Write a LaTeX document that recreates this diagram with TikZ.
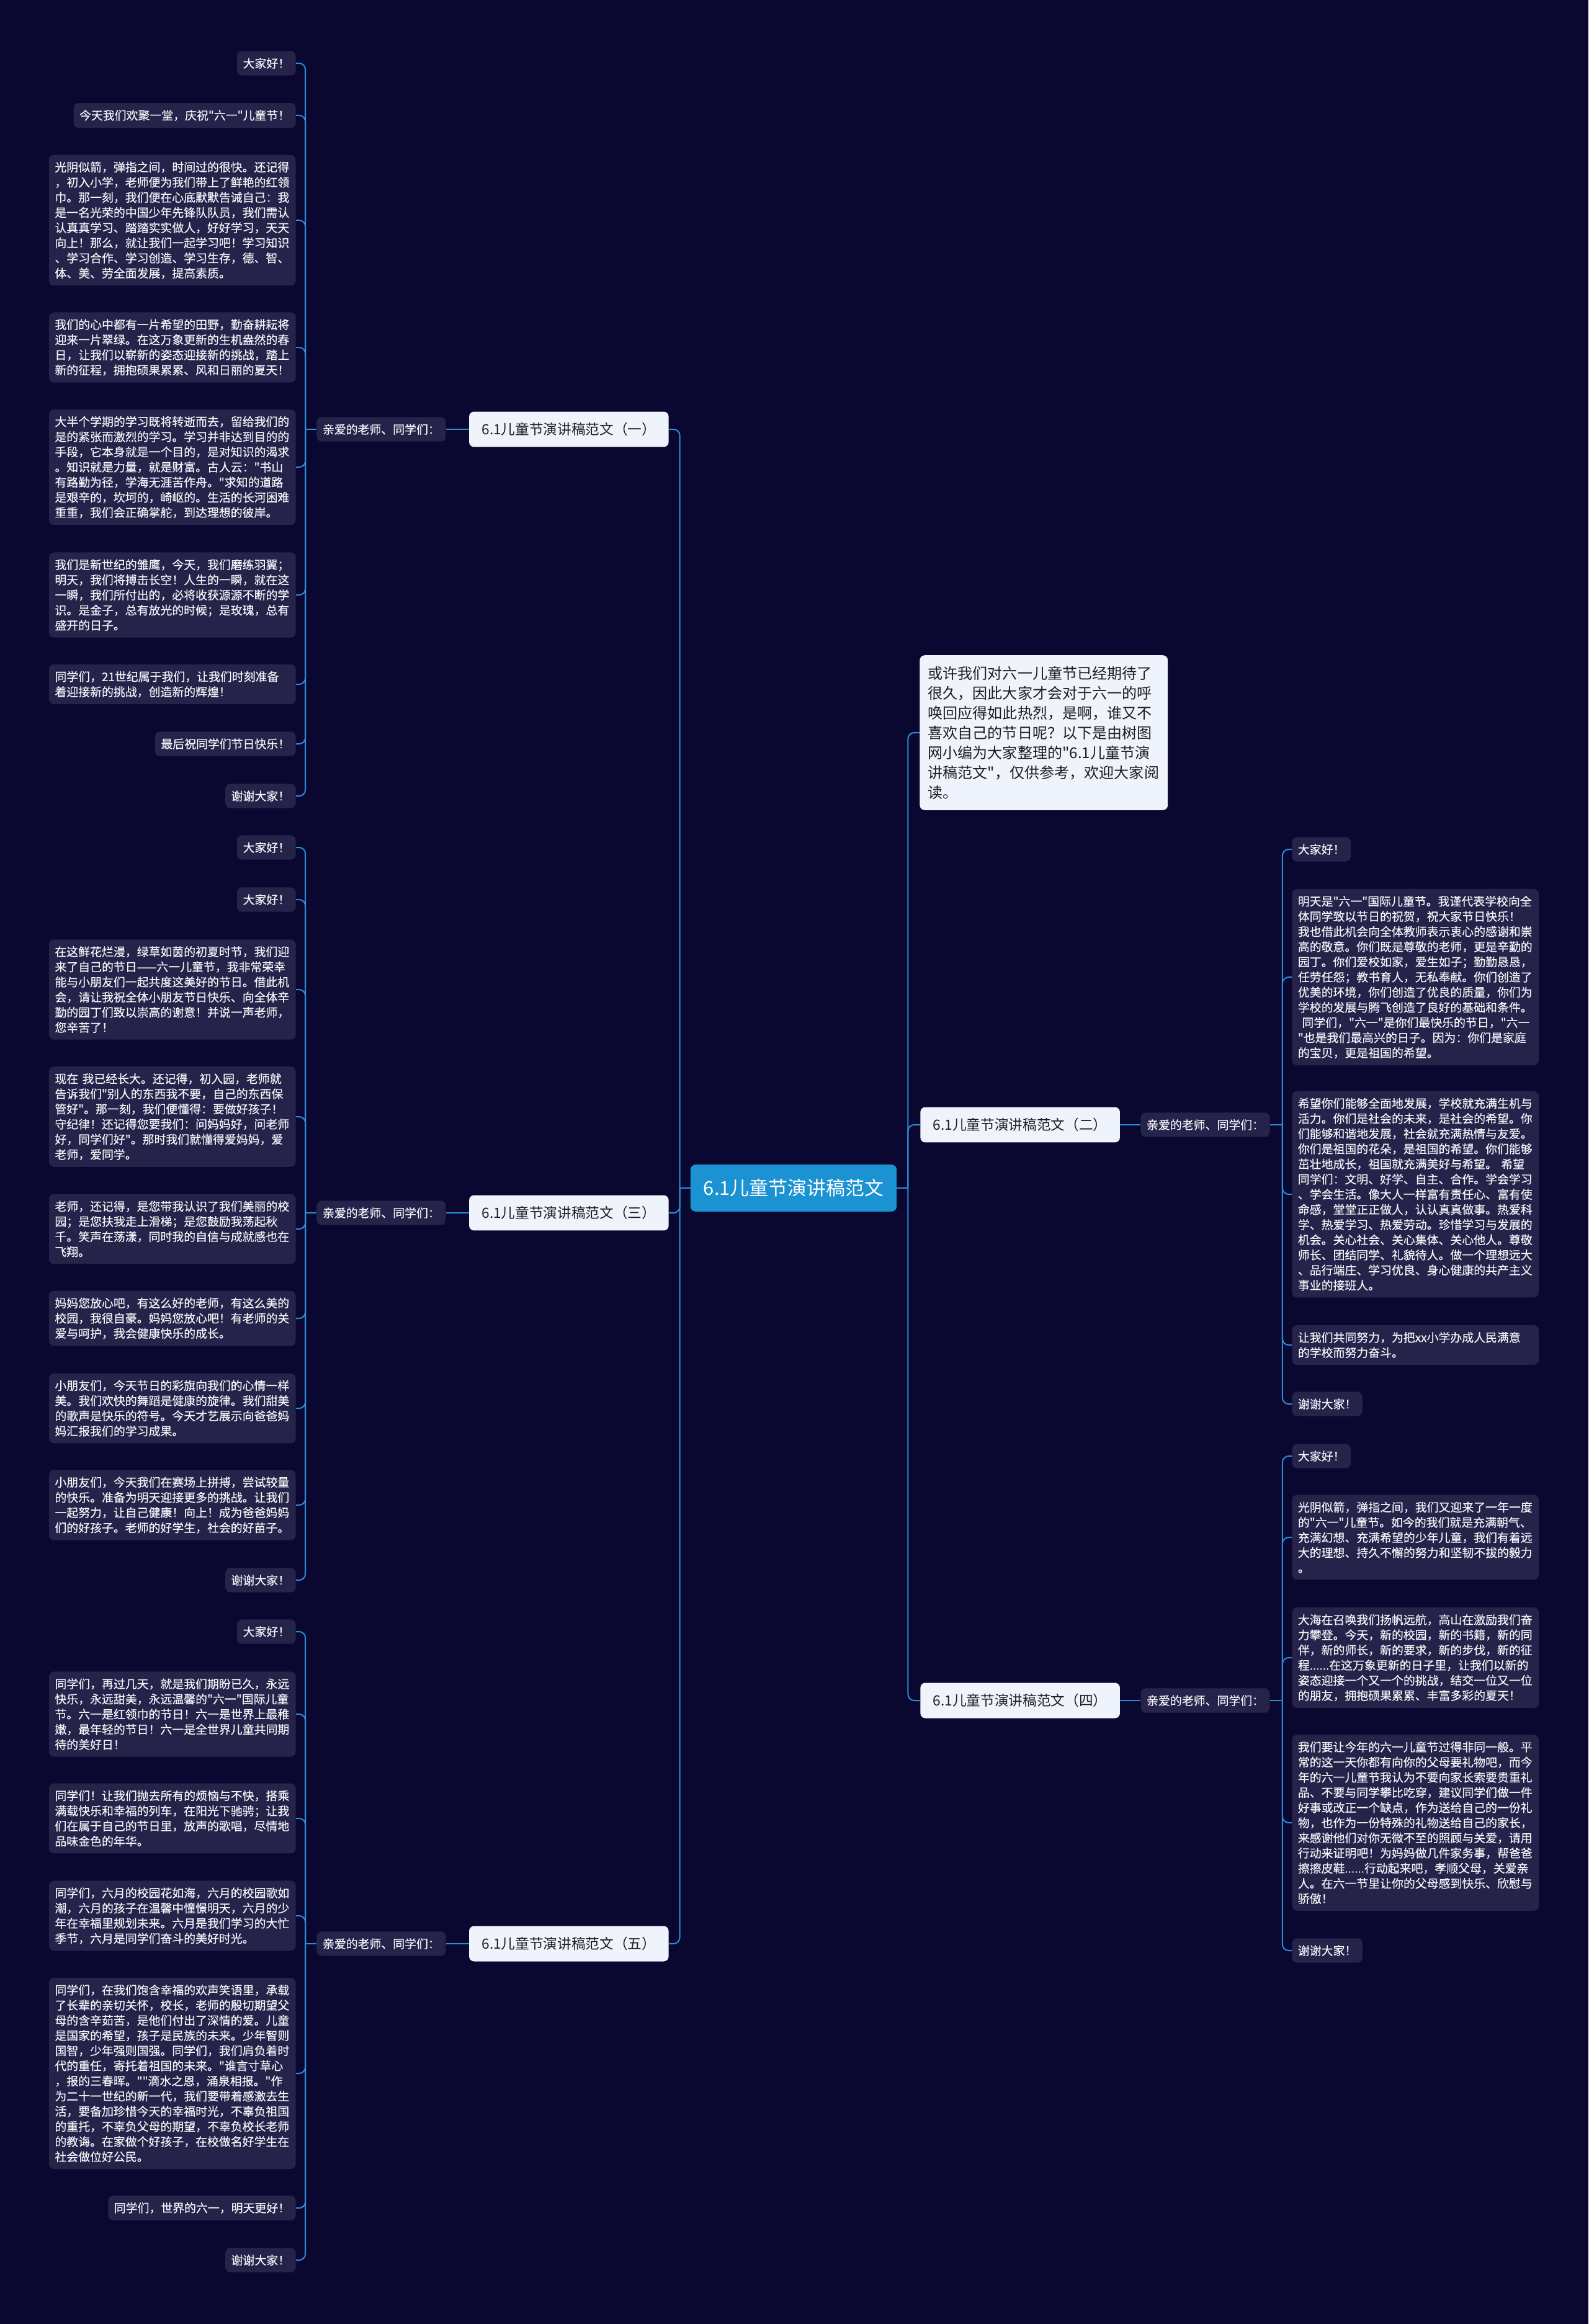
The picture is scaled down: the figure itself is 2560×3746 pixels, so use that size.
\documentclass[tikz,border=0pt]{standalone}
\usepackage{fontspec}
\setmainfont{Noto Sans CJK SC}[Ligatures=TeXOff]
\newfontfamily\leaffont{Noto Sans CJK SC}[Ligatures=TeXOff,FakeBold=0.4]
\usepackage{xcolor}
\usepackage{tikz}
\usetikzlibrary{positioning}

\definecolor{bgnavy}{HTML}{0A0730}
\definecolor{leaffill}{HTML}{25234A}
\definecolor{leaftext}{HTML}{F4F4F8}
\definecolor{branchfill}{HTML}{EEF3FC}
\definecolor{branchtext}{HTML}{1C1C24}
\definecolor{rootblue}{HTML}{1B93D3}
\definecolor{linkblue}{HTML}{2C8ED8}

\begin{document}
\begin{tikzpicture}[
    x=0.2mm, y=-0.2mm,
    leaf/.style   = {fill=leaffill, text=leaftext, rounded corners=1.6mm,
                     align=left, inner xsep=5.4pt, inner ysep=6.2pt,
                     font=\leaffont\fontsize{10.75pt}{13.9pt}\selectfont},
    para/.style   = {leaf, text width=215.5pt},
    branch/.style = {fill=branchfill, text=branchtext, rounded corners=1.6mm,
                     minimum width=183pt, minimum height=32.4pt,
                     font=\fontsize{12.9pt}{15pt}\selectfont},
    root/.style   = {fill=rootblue, text=white, rounded corners=1.6mm,
                     minimum width=189pt, minimum height=43pt,
                     font=\fontsize{17.6pt}{20pt}\selectfont},
    intro/.style  = {fill=branchfill, text=branchtext, rounded corners=1.6mm,
                     align=left, text width=212.5pt, inner xsep=7.5pt,
                     inner ysep=10pt, font=\fontsize{13.7pt}{18.2pt}\selectfont},
    link/.style   = {draw=linkblue, line width=0.4mm, rounded corners=2mm},
]

%% ── Canvas ────────────────────────────────────────────────────────────────
\fill[bgnavy] (0,0) rectangle (2560,3746);

%% ── Root and branches ─────────────────────────────────────────────────────
\node[root] (root) at (1279,1915) {6.1儿童节演讲稿范文};

\node[branch, anchor=east] (b1) at (1078,692)  {6.1儿童节演讲稿范文（一）};
\node[branch, anchor=east] (b3) at (1078,1955) {6.1儿童节演讲稿范文（三）};
\node[branch, anchor=east] (b5) at (1078,3133) {6.1儿童节演讲稿范文（五）};
\node[branch, anchor=west] (b2) at (1483,1813) {6.1儿童节演讲稿范文（二）};
\node[branch, anchor=west] (b4) at (1483,2741) {6.1儿童节演讲稿范文（四）};

\node[intro, anchor=west] (intro) at (1482,1181)
  {或许我们对六一儿童节已经期待了\\很久，因此大家才会对于六一的呼\\唤回应得如此热烈，是啊，谁又不\\喜欢自己的节日呢？以下是由树图\\网小编为大家整理的"6.1儿童节演\\讲稿范文"，仅供参考，欢迎大家阅\\读。};

\node[leaf, left=7.4mm of b1]  (l1) {亲爱的老师、同学们：};
\node[leaf, left=7.4mm of b3]  (l3) {亲爱的老师、同学们：};
\node[leaf, left=7.4mm of b5]  (l5) {亲爱的老师、同学们：};
\node[leaf, right=6.6mm of b2] (l2) {亲爱的老师、同学们：};
\node[leaf, right=6.6mm of b4] (l4) {亲爱的老师、同学们：};

%% ── Speech (一) ────────────────────────────────────────────────────────────
\node[leaf, anchor=east] (a1) at (477,102) {大家好！};
\node[leaf, anchor=east] (a2) at (477,186) {今天我们欢聚一堂，庆祝"六一"儿童节！};
\node[para, anchor=east] (a3) at (477,355)
  {光阴似箭，弹指之间，时间过的很快。还记得\\，初入小学，老师便为我们带上了鲜艳的红领\\巾。那一刻，我们便在心底默默告诫自己：我\\是一名光荣的中国少年先锋队队员，我们需认\\认真真学习、踏踏实实做人，好好学习，天天\\向上！那么，就让我们一起学习吧！学习知识\\、学习合作、学习创造、学习生存，德、智、\\体、美、劳全面发展，提高素质。};
\node[para, anchor=east] (a4) at (477,560)
  {我们的心中都有一片希望的田野，勤奋耕耘将\\迎来一片翠绿。在这万象更新的生机盎然的春\\日，让我们以崭新的姿态迎接新的挑战，踏上\\新的征程，拥抱硕果累累、风和日丽的夏天！};
\node[para, anchor=east] (a5) at (477,753)
  {大半个学期的学习既将转逝而去，留给我们的\\是的紧张而激烈的学习。学习并非达到目的的\\手段，它本身就是一个目的，是对知识的渴求\\。知识就是力量，就是财富。古人云："书山\\有路勤为径，学海无涯苦作舟。"求知的道路\\是艰辛的，坎坷的，崎岖的。生活的长河困难\\重重，我们会正确掌舵，到达理想的彼岸。};
\node[para, anchor=east] (a6) at (477,959)
  {我们是新世纪的雏鹰，今天，我们磨练羽翼；\\明天，我们将搏击长空！人生的一瞬，就在这\\一瞬，我们所付出的，必将收获源源不断的学\\识。是金子，总有放光的时候；是玫瑰，总有\\盛开的日子。};
\node[para, anchor=east] (a7) at (477,1103)
  {同学们，21世纪属于我们，让我们时刻准备\\着迎接新的挑战，创造新的辉煌！};
\node[leaf, anchor=east] (a8) at (477,1199) {最后祝同学们节日快乐！};
\node[leaf, anchor=east] (a9) at (477,1283) {谢谢大家！};

%% ── Speech (三) ────────────────────────────────────────────────────────────
\node[leaf, anchor=east] (c1) at (477,1366) {大家好！};
\node[leaf, anchor=east] (c2) at (477,1450) {大家好！};
\node[para, anchor=east] (c3) at (477,1595)
  {在这鲜花烂漫，绿草如茵的初夏时节，我们迎\\来了自己的节日——六一儿童节，我非常荣幸\\能与小朋友们一起共度这美好的节日。借此机\\会，请让我祝全体小朋友节日快乐、向全体辛\\勤的园丁们致以崇高的谢意！并说一声老师，\\您辛苦了！};
\node[para, anchor=east] (c4) at (477,1800)
  {现在 我已经长大。还记得，初入园，老师就\\告诉我们"别人的东西我不要，自己的东西保\\管好"。那一刻，我们便懂得：要做好孩子！\\守纪律！还记得您要我们：问妈妈好，问老师\\好，同学们好"。那时我们就懂得爱妈妈，爱\\老师，爱同学。};
\node[para, anchor=east] (c5) at (477,1981)
  {老师，还记得，是您带我认识了我们美丽的校\\园；是您扶我走上滑梯；是您鼓励我荡起秋\\千。笑声在荡漾，同时我的自信与成就感也在\\飞翔。};
\node[para, anchor=east] (c6) at (477,2125)
  {妈妈您放心吧，有这么好的老师，有这么美的\\校园，我很自豪。妈妈您放心吧！有老师的关\\爱与呵护，我会健康快乐的成长。};
\node[para, anchor=east] (c7) at (477,2270)
  {小朋友们，今天节日的彩旗向我们的心情一样\\美。我们欢快的舞蹈是健康的旋律。我们甜美\\的歌声是快乐的符号。今天才艺展示向爸爸妈\\妈汇报我们的学习成果。};
\node[para, anchor=east] (c8) at (477,2426)
  {小朋友们，今天我们在赛场上拼搏，尝试较量\\的快乐。准备为明天迎接更多的挑战。让我们\\一起努力，让自己健康！向上！成为爸爸妈妈\\们的好孩子。老师的好学生，社会的好苗子。};
\node[leaf, anchor=east] (c9) at (477,2547) {谢谢大家！};

%% ── Speech (五) ────────────────────────────────────────────────────────────
\node[leaf, anchor=east] (e1) at (477,2630) {大家好！};
\node[para, anchor=east] (e2) at (477,2763)
  {同学们，再过几天，就是我们期盼已久，永远\\快乐，永远甜美，永远温馨的"六一"国际儿童\\节。六一是红领巾的节日！六一是世界上最稚\\嫩，最年轻的节日！六一是全世界儿童共同期\\待的美好日！};
\node[para, anchor=east] (e3) at (477,2931)
  {同学们！让我们抛去所有的烦恼与不快，搭乘\\满载快乐和幸福的列车，在阳光下驰骋；让我\\们在属于自己的节日里，放声的歌唱，尽情地\\品味金色的年华。};
\node[para, anchor=east] (e4) at (477,3088)
  {同学们，六月的校园花如海，六月的校园歌如\\潮，六月的孩子在温馨中憧憬明天，六月的少\\年在幸福里规划未来。六月是我们学习的大忙\\季节，六月是同学们奋斗的美好时光。};
\node[para, anchor=east] (e5) at (477,3342)
  {同学们，在我们饱含幸福的欢声笑语里，承载\\了长辈的亲切关怀，校长，老师的殷切期望父\\母的含辛茹苦，是他们付出了深情的爱。儿童\\是国家的希望，孩子是民族的未来。少年智则\\国智，少年强则国强。同学们，我们肩负着时\\代的重任，寄托着祖国的未来。"谁言寸草心\\，报的三春晖。""滴水之恩，涌泉相报。"作\\为二十一世纪的新一代，我们要带着感激去生\\活，要备加珍惜今天的幸福时光，不辜负祖国\\的重托，不辜负父母的期望，不辜负校长老师\\的教诲。在家做个好孩子，在校做名好学生在\\社会做位好公民。};
\node[leaf, anchor=east] (e6) at (477,3559) {同学们，世界的六一，明天更好！};
\node[leaf, anchor=east] (e7) at (477,3643) {谢谢大家！};

%% ── Speech (二) ────────────────────────────────────────────────────────────
\node[leaf, anchor=west] (d1) at (2082,1369) {大家好！};
\node[para, anchor=west] (d2) at (2082,1575)
  {明天是"六一"国际儿童节。我谨代表学校向全\\体同学致以节日的祝贺，祝大家节日快乐！\\我也借此机会向全体教师表示衷心的感谢和崇\\高的敬意。你们既是尊敬的老师，更是辛勤的\\园丁。你们爱校如家，爱生如子；勤勤恳恳，\\任劳任怨；教书育人，无私奉献。你们创造了\\优美的环境，你们创造了优良的质量，你们为\\学校的发展与腾飞创造了良好的基础和条件。\\\hspace*{.35em}同学们，"六一"是你们最快乐的节日，"六一\\"也是我们最高兴的日子。因为：你们是家庭\\的宝贝，更是祖国的希望。};
\node[para, anchor=west] (d3) at (2082,1925)
  {希望你们能够全面地发展，学校就充满生机与\\活力。你们是社会的未来，是社会的希望。你\\们能够和谐地发展，社会就充满热情与友爱。\\你们是祖国的花朵，是祖国的希望。你们能够\\茁壮地成长，祖国就充满美好与希望。 希望\\同学们：文明、好学、自主、合作。学会学习\\、学会生活。像大人一样富有责任心、富有使\\命感，堂堂正正做人，认认真真做事。热爱科\\学、热爱学习、热爱劳动。珍惜学习与发展的\\机会。关心社会、关心集体、关心他人。尊敬\\师长、团结同学、礼貌待人。做一个理想远大\\、品行端庄、学习优良、身心健康的共产主义\\事业的接班人。};
\node[para, anchor=west] (d4) at (2082,2168)
  {让我们共同努力，为把xx小学办成人民满意\\的学校而努力奋斗。};
\node[leaf, anchor=west] (d5) at (2082,2263) {谢谢大家！};

%% ── Speech (四) ────────────────────────────────────────────────────────────
\node[leaf, anchor=west] (f1) at (2082,2347) {大家好！};
\node[para, anchor=west] (f2) at (2082,2478)
  {光阴似箭，弹指之间，我们又迎来了一年一度\\的"六一"儿童节。如今的我们就是充满朝气、\\充满幻想、充满希望的少年儿童，我们有着远\\大的理想、持久不懈的努力和坚韧不拔的毅力\\。};
\node[para, anchor=west] (f3) at (2082,2672)
  {大海在召唤我们扬帆远航，高山在激励我们奋\\力攀登。今天，新的校园，新的书籍，新的同\\伴，新的师长，新的要求，新的步伐，新的征\\程......在这万象更新的日子里，让我们以新的\\姿态迎接一个又一个的挑战，结交一位又一位\\的朋友，拥抱硕果累累、丰富多彩的夏天！};
\node[para, anchor=west] (f4) at (2082,2938)
  {我们要让今年的六一儿童节过得非同一般。平\\常的这一天你都有向你的父母要礼物吧，而今\\年的六一儿童节我认为不要向家长索要贵重礼\\品、不要与同学攀比吃穿，建议同学们做一件\\好事或改正一个缺点，作为送给自己的一份礼\\物，也作为一份特殊的礼物送给自己的家长，\\来感谢他们对你无微不至的照顾与关爱，请用\\行动来证明吧！为妈妈做几件家务事，帮爸爸\\擦擦皮鞋......行动起来吧，孝顺父母，关爱亲\\人。在六一节里让你的父母感到快乐、欣慰与\\骄傲！};
\node[leaf, anchor=west] (f5) at (2082,3144) {谢谢大家！};

%% ── Connectors ────────────────────────────────────────────────────────────
\coordinate (jl) at ([xshift=-3.4mm]root.west);
\coordinate (jr) at ([xshift=3.6mm]root.east);
\draw[link] (root.west) -- (jl);
\draw[link] (root.east) -- (jr);
\foreach \b in {b1,b3,b5} \draw[link] (jl) |- (\b.east);
\foreach \b in {intro,b2,b4} \draw[link] (jr) |- (\b.west);

\foreach \b/\l in {b1/l1,b3/l3,b5/l5} \draw[link] (\b.west) -- (\l.east);
\foreach \b/\l in {b2/l2,b4/l4} \draw[link] (\b.east) -- (\l.west);

\coordinate (j1) at ([xshift=-3.6mm]l1.west);
\coordinate (j3) at ([xshift=-3.6mm]l3.west);
\coordinate (j5) at ([xshift=-3.6mm]l5.west);
\coordinate (j2) at ([xshift=4mm]l2.east);
\coordinate (j4) at ([xshift=4mm]l4.east);
\foreach \l/\j in {l1/j1,l3/j3,l5/j5} \draw[link] (\l.west) -- (\j);
\foreach \l/\j in {l2/j2,l4/j4} \draw[link] (\l.east) -- (\j);

\foreach \c in {a1,a2,a3,a4,a5,a6,a7,a8,a9} \draw[link] (j1) |- (\c.east);
\foreach \c in {c1,c2,c3,c4,c5,c6,c7,c8,c9} \draw[link] (j3) |- (\c.east);
\foreach \c in {e1,e2,e3,e4,e5,e6,e7} \draw[link] (j5) |- (\c.east);
\foreach \c in {d1,d2,d3,d4,d5} \draw[link] (j2) |- (\c.west);
\foreach \c in {f1,f2,f3,f4,f5} \draw[link] (j4) |- (\c.west);

\end{tikzpicture}
\end{document}
